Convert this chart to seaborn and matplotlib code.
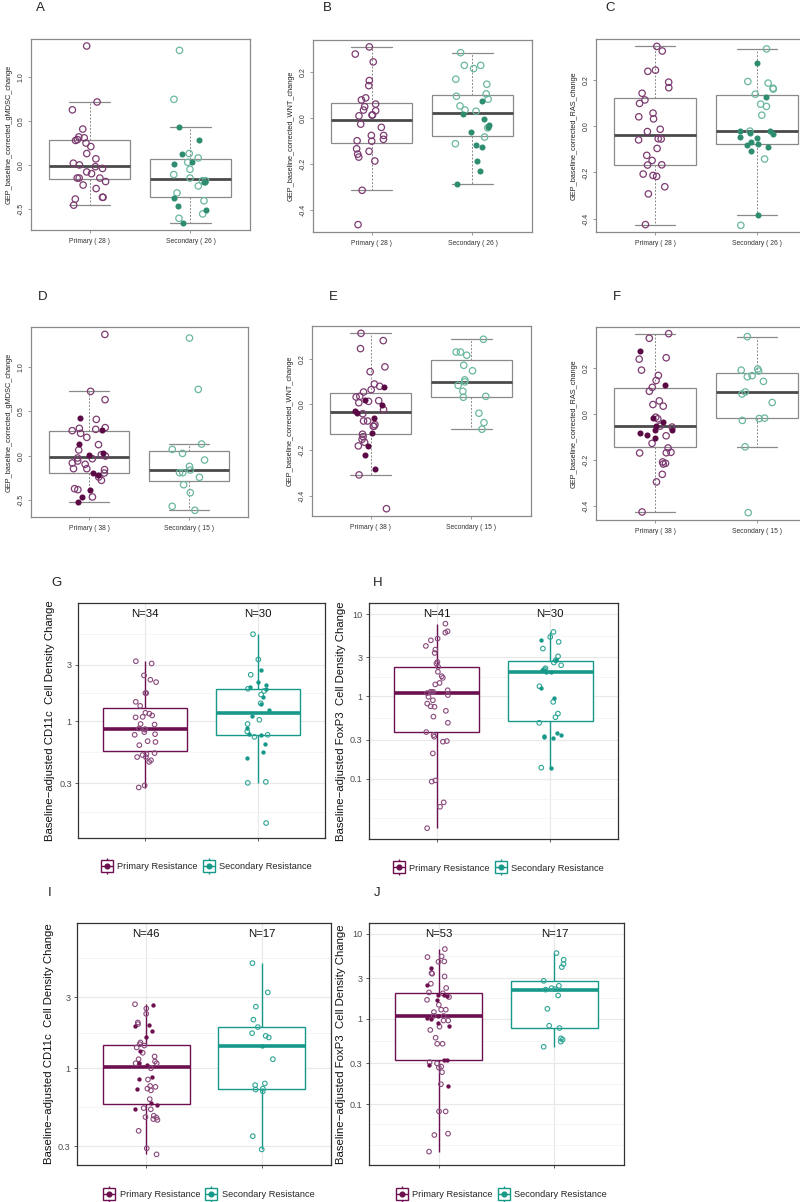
import numpy as np
import pandas as pd
import matplotlib
matplotlib.use("Agg")
import matplotlib.pyplot as plt
import seaborn as sns
from matplotlib.lines import Line2D
from matplotlib.legend_handler import HandlerTuple

sns.set_theme(style="white")
plt.rcParams["font.family"] = ["Liberation Sans", "DejaVu Sans"]

# ---------------- data: GEP panels (A-F) ----------------
a_prim = [1.36, 0.72, 0.63, 0.41, 0.29, 0.28, 0.32, 0.31, 0.25, 0.21, 0.13, 0.07, 0.00, -0.04,
          0.02, -0.02, -0.08, -0.10, -0.15, -0.15, -0.15, -0.19, -0.23, -0.27, -0.37, -0.37, -0.39, -0.46]
a_prim_fill = [0] * 28
a_sec = [1.31, 0.75, 0.43, 0.28, 0.13, 0.13, 0.08, 0.03, 0.03, 0.01, -0.05, -0.11, -0.15,
         -0.18, -0.18, -0.19, -0.20, -0.24, -0.32, -0.38, -0.41, -0.56, -0.52, -0.47, -0.61, -0.66]
a_sec_fill = [0, 0, 1, 1, 0, 1, 0, 0, 1, 1, 0, 0, 0, 0, 0, 1, 1, 0, 0, 1, 0, 0, 1, 1, 0, 1]

b_prim = [0.309, 0.278, 0.244, 0.163, 0.141, 0.088, 0.079, 0.061, 0.050, 0.035, 0.032, 0.014,
          0.010, 0.013, -0.026, -0.040, -0.075, -0.075, -0.092, -0.098, -0.100, -0.133, -0.144,
          -0.156, -0.169, -0.186, -0.313, -0.462]
b_prim_fill = [0] * 28
b_sec = [0.284, 0.229, 0.229, 0.215, 0.169, 0.147, 0.105, 0.095, 0.082, 0.076, 0.053, 0.035, 0.030,
         0.016, -0.003, -0.038, -0.029, -0.042, -0.061, -0.082, -0.111, -0.115, -0.126, -0.185,
         -0.228, -0.284]
b_sec_fill = [0, 0, 0, 0, 0, 0, 0, 0, 0, 1, 0, 0, 0, 1, 1, 1, 1, 0, 1, 0, 0, 1, 1, 1, 1, 1]

c_prim = [0.346, 0.326, 0.238, 0.243, 0.191, 0.167, 0.143, 0.114, 0.099, 0.057, 0.041, 0.032,
          -0.013, -0.023, -0.055, -0.054, -0.059, -0.096, -0.126, -0.148, -0.168, -0.167, -0.213,
          -0.207, -0.217, -0.262, -0.293, -0.426]
c_prim_fill = [0] * 28
c_sec = [0.335, 0.275, 0.194, 0.187, 0.165, 0.161, 0.139, 0.125, 0.096, 0.086, 0.048, -0.019,
         -0.019, -0.028, -0.033, -0.051, -0.070, -0.077, -0.081, -0.090, -0.106, -0.142, -0.386,
         -0.429, -0.021, -0.045]
c_sec_fill = [0, 1, 0, 0, 0, 0, 0, 1, 0, 0, 0, 1, 1, 1, 1, 1, 1, 1, 1, 1, 1, 0, 1, 0, 0, 1]

d_prim = [1.363, 0.723, 0.629, 0.427, 0.408, 0.296, 0.285, 0.307, 0.315, 0.281, 0.251, 0.206,
          0.135, 0.124, 0.026, 0.064, 0.011, -0.004, 0.004, -0.026, -0.034, -0.082, -0.097,
          -0.146, -0.157, -0.146, -0.195, -0.191, -0.213, -0.240, -0.277, -0.382, -0.371,
          -0.382, -0.464, -0.468, -0.521, -0.060]
d_prim_fill = [0, 0, 0, 1, 0, 0, 1, 0, 0, 0, 0, 0, 1, 0, 1, 0, 0, 0, 1, 0, 0, 0, 0, 0, 0, 0,
               0, 1, 1, 0, 0, 0, 0, 1, 0, 1, 1, 0]
d_sec = [1.322, 0.745, 0.131, 0.071, 0.026, -0.049, -0.120, -0.191, -0.161, -0.191, -0.243,
         -0.326, -0.416, -0.569, -0.614]
d_sec_fill = [0] * 15

e_prim = [0.311, 0.279, 0.244, 0.164, 0.143, 0.089, 0.076, 0.079, 0.064, 0.054, 0.035, 0.032,
          0.018, 0.016, 0.013, 0.007, -0.004, -0.023, -0.028, -0.038, -0.041, -0.058, -0.073,
          -0.073, -0.089, -0.096, -0.096, -0.131, -0.124, -0.142, -0.153, -0.166, -0.182,
          -0.181, -0.223, -0.282, -0.309, -0.457]
e_prim_fill = [0, 0, 0, 0, 0, 0, 1, 0, 0, 0, 0, 0, 1, 0, 0, 0, 1, 0, 1, 1, 0, 1, 0, 0, 0, 0,
               0, 0, 1, 0, 0, 0, 0, 1, 1, 1, 0, 0]
e_sec = [0.285, 0.229, 0.229, 0.215, 0.171, 0.147, 0.107, 0.098, 0.083, 0.057, 0.035, 0.031,
         -0.039, -0.080, -0.109]
e_sec_fill = [0] * 15

f_prim = [0.351, 0.331, 0.277, 0.246, 0.240, 0.192, 0.169, 0.147, 0.126, 0.117, 0.100, 0.058,
          0.042, 0.035, -0.013, -0.017, -0.020, -0.032, -0.052, -0.056, -0.069, -0.053, -0.069,
          -0.081, -0.094, -0.090, -0.104, -0.127, -0.147, -0.168, -0.169, -0.208, -0.214,
          -0.217, -0.262, -0.295, -0.426, -0.166]
f_prim_fill = [0, 0, 1, 0, 0, 0, 0, 0, 1, 0, 0, 0, 0, 0, 0, 1, 0, 1, 0, 0, 1, 1, 1, 1, 0, 1,
               1, 0, 0, 0, 0, 0, 0, 0, 0, 0, 0, 0]
f_sec = [0.338, 0.197, 0.188, 0.192, 0.168, 0.163, 0.143, 0.097, 0.088, 0.051, -0.019, -0.027,
         -0.017, -0.142, -0.429]
f_sec_fill = [0] * 15

# ---------------- data: cell density panels (G-J) ----------------
g_prim = [3.21, 3.07, 2.44, 2.24, 2.14, 1.73, 1.73, 1.46, 1.35, 1.18, 1.16, 1.12, 1.09, 1.08,
          0.95, 0.94, 0.87, 0.81, 0.78, 0.77, 0.68, 0.67, 0.63, 0.53, 0.54, 0.50, 0.50, 0.47,
          0.455, 0.288, 0.277, 0.86, 0.52, 0.85]
g_prim_fill = [0] * 34
g_sec = [5.42, 3.32, 2.70, 2.47, 2.15, 2.02, 1.93, 1.89, 1.88, 1.80, 1.61, 1.68, 1.42, 1.40,
         1.24, 1.11, 1.03, 0.885, 0.82, 0.77, 0.74, 0.77, 0.645, 0.55, 0.49, 0.303, 0.309,
         0.139, 0.78, 0.95]
g_sec_fill = [0, 0, 1, 0, 1, 1, 1, 1, 0, 0, 1, 0, 0, 1, 1, 1, 0, 1, 0, 1, 0, 0, 1, 1, 1, 0,
              0, 0, 1, 0]

h_prim = [7.64, 6.17, 5.94, 5.03, 4.80, 4.10, 3.70, 3.37, 2.62, 2.51, 2.29, 1.99, 1.68, 1.76,
          1.46, 1.40, 1.14, 1.19, 1.14, 1.14, 1.10, 1.04, 0.99, 0.90, 0.82, 0.76, 0.75, 0.67,
          0.57, 0.48, 0.37, 0.34, 0.325, 0.283, 0.288, 0.204, 0.096, 0.093, 0.052, 0.046, 0.0253]
h_prim_fill = [0] * 41
h_sec = [6.06, 5.27, 4.59, 4.80, 3.81, 3.07, 2.80, 2.75, 2.58, 2.39, 2.12, 2.12, 2.08, 1.99,
         1.33, 1.25, 0.95, 0.86, 0.62, 0.56, 0.48, 0.357, 0.34, 0.31, 0.325, 0.137, 0.137,
         2.00, 2.20, 0.33]
h_sec_fill = [0, 0, 0, 1, 0, 0, 1, 0, 0, 0, 0, 1, 1, 1, 0, 1, 1, 0, 0, 0, 0, 1, 1, 1, 1, 0,
              1, 1, 0, 1]

i_prim = [2.64, 2.69, 2.52, 2.32, 2.03, 1.98, 1.93, 1.96, 1.78, 1.45, 1.63, 1.42, 1.49, 1.38,
          1.31, 1.27, 1.15, 1.11, 1.08, 1.09, 1.08, 1.00, 0.87, 0.85, 0.84, 0.75, 0.76, 0.73,
          0.73, 0.71, 0.58, 0.57, 0.54, 0.53, 0.53, 0.48, 0.47, 0.466, 0.456, 0.45, 0.38, 0.29,
          0.264, 0.62, 1.20, 1.05]
i_prim_fill = [1, 0, 0, 0, 0, 0, 1, 1, 1, 0, 1, 0, 0, 0, 1, 0, 0, 0, 0, 1, 0, 0, 1, 1, 0, 0,
               0, 0, 1, 0, 1, 1, 0, 0, 1, 0, 0, 0, 0, 0, 0, 0, 0, 0, 0, 1]
i_sec = [5.08, 3.23, 2.59, 2.12, 1.89, 1.72, 1.65, 1.61, 1.15, 1.42, 0.79, 0.77, 0.73, 0.70,
         0.72, 0.35, 0.285]
i_sec_fill = [0, 0, 0, 0, 0, 0, 0, 0, 0, 1, 0, 0, 0, 0, 0, 0, 0]

j_prim = [6.58, 5.30, 5.40, 4.71, 4.67, 3.94, 3.38, 3.44, 3.14, 2.58, 2.51, 2.04, 1.91, 1.99,
          1.91, 1.80, 1.67, 1.67, 1.46, 1.28, 1.28, 1.08, 1.08, 1.08, 1.02, 0.955, 0.955, 0.89,
          0.83, 0.81, 0.74, 0.60, 0.51, 0.51, 0.33, 0.33, 0.30, 0.29, 0.275, 0.268, 0.237,
          0.171, 0.163, 0.082, 0.082, 0.045, 0.0434, 0.0277, 1.85, 1.20, 0.31, 1.00, 2.30]
j_prim_fill = [0, 0, 0, 0, 0, 1, 0, 0, 0, 0, 1, 0, 1, 0, 1, 0, 1, 0, 0, 0, 0, 0, 0, 1, 1, 0,
               0, 1, 1, 0, 0, 0, 0, 0, 1, 1, 0, 1, 0, 0, 0, 0, 1, 0, 0, 0, 0, 0, 1, 0, 0, 1, 0]
j_sec = [5.90, 4.93, 4.39, 4.04, 2.79, 2.44, 2.29, 2.23, 1.88, 1.31, 0.83, 0.78, 0.59, 0.57,
         0.54, 0.47, 2.20]
j_sec_fill = [0] * 17

log_breaks = [0.1, 0.3, 1, 3, 10]
legend_labels = ["Primary Resistance", "Secondary Resistance"]

# ---------------- style ----------------
R_GREY = "#8a8a8a"
TOP_PRIM_OPEN, TOP_PRIM_FILL = "#7d3c71", "#5c0a46"
TOP_SEC_OPEN, TOP_SEC_FILL = "#6bb7a0", "#2e8c70"
BOT_PRIM, BOT_PRIM_OPEN = "#6d1050", "#8a4a7c"
BOT_SEC, BOT_SEC_OPEN = "#17998a", "#2fa596"

W, H = 800, 1202
fig = plt.figure(figsize=(W / 100, H / 100), dpi=100)


def rect(x0, y0, x1, y1):
    return [x0 / W, 1 - y1 / H, (x1 - x0) / W, (y1 - y0) / H]


def make_df(prim, prim_fill, sec, sec_fill, labs):
    return pd.DataFrame({
        "group": [labs[0]] * len(prim) + [labs[1]] * len(sec),
        "value": list(prim) + list(sec),
        "filled": list(prim_fill) + list(sec_fill),
    })


def draw_points(ax, df, labs, colors, jitter, size, lw, seed, log=False):
    for gi, lab in enumerate(labs):
        open_c, fill_c = colors[gi]
        for f in (0, 1):
            sub = df[(df.group == lab) & (df.filled == f)]
            if len(sub) == 0:
                continue
            np.random.seed(seed + 10 * gi + f)
            kw = dict(data=sub, x="group", y="value", order=labs, jitter=jitter, ax=ax,
                      zorder=4)
            if log:
                kw["log_scale"] = True
            if f:
                sns.stripplot(**kw, color=fill_c, size=size * 0.95, linewidth=0)
            else:
                sns.stripplot(**kw, color=open_c, facecolor="none", edgecolor=open_c,
                              size=size, linewidth=lw)


def top_panel(r, prim, prim_fill, sec, sec_fill, ylabel, yticks, ylim, seed):
    ax = fig.add_axes(rect(*r))
    labs = [f"Primary ( {len(prim)} )", f"Secondary ( {len(sec)} )"]
    df = make_df(prim, prim_fill, sec, sec_fill, labs)
    sns.boxplot(data=df, x="group", y="value", order=labs, width=0.8, whis=1.5,
                showfliers=False, color="white", linecolor=R_GREY, linewidth=0.9,
                medianprops=dict(color="#4a4a4a", linewidth=2.0),
                whiskerprops=dict(linestyle=(0, (2, 1.6)), linewidth=0.7),
                capprops=dict(linewidth=0.9), ax=ax)
    draw_points(ax, df, labs, [(TOP_PRIM_OPEN, TOP_PRIM_FILL), (TOP_SEC_OPEN, TOP_SEC_FILL)],
                jitter=0.17, size=4.6, lw=0.9, seed=seed)
    ax.set_xlim(-0.58, 1.59)
    ax.set_ylim(*ylim)
    ax.set_yticks(yticks)
    ax.set_yticklabels([f"{v:.1f}" for v in yticks], rotation=90, va="center")
    ax.set_xlabel("")
    ax.set_ylabel(ylabel, fontsize=5.3, labelpad=4, color="#222222")
    ax.tick_params(axis="both", direction="out", length=2.5, width=0.6, color=R_GREY,
                   labelsize=5, labelcolor="#333333", pad=2, bottom=True, left=True)
    ax.tick_params(axis="x", labelsize=4.9, pad=3)
    for s in ax.spines.values():
        s.set_color(R_GREY)
        s.set_linewidth(0.9)
    return ax


def bottom_panel(r, prim, prim_fill, sec, sec_fill, ylabel, ylim, seed, show_breaks):
    ax = fig.add_axes(rect(*r))
    labs = ["Primary Resistance", "Secondary Resistance"]
    df = make_df(prim, prim_fill, sec, sec_fill, labs)
    for lab, col in zip(labs, [BOT_PRIM, BOT_SEC]):
        sns.boxplot(data=df[df.group == lab], x="group", y="value", order=labs, width=0.75,
                    whis=1.5, showfliers=False, showcaps=False, color="white", linecolor=col,
                    linewidth=1.0, medianprops=dict(linewidth=2.6), log_scale=True, ax=ax)
    draw_points(ax, df, labs, [(BOT_PRIM_OPEN, BOT_PRIM), (BOT_SEC_OPEN, BOT_SEC)],
                jitter=0.1, size=3.3, lw=0.8, seed=seed, log=True)
    ax.set_xlim(-0.6, 1.6)
    ax.set_ylim(*ylim)
    lb = np.log10(log_breaks)
    ext = np.concatenate([[lb[0] - (lb[1] - lb[0])], lb, [lb[-1] + (lb[-1] - lb[-2])]])
    minors = np.concatenate([(ext[:-1] + ext[1:]) / 2, ext[[0, -1]]])
    ax.set_yticks(log_breaks)
    ax.set_yticklabels([f"{b:g}" if b in show_breaks else "" for b in log_breaks])
    ax.set_yticks(10 ** minors, minor=True)
    ax.set_yticklabels([], minor=True)
    ax.set_ylim(*ylim)
    ax.grid(True, which="major", color="#e9e9e9", linewidth=0.9)
    ax.grid(True, which="minor", axis="y", color="#f2f2f2", linewidth=0.5)
    ax.set_axisbelow(True)
    ax.set_xticklabels([])
    ax.set_xlabel("")
    ax.set_ylabel(ylabel, fontsize=8.2, color="#111111", labelpad=3)
    ax.tick_params(axis="both", which="major", direction="out", length=2.5, width=0.6,
                   color="#444444", labelsize=6.6, labelcolor="#4d4d4d", pad=2,
                   bottom=True, left=True)
    ax.tick_params(axis="y", which="minor", length=0, left=False)
    for s in ax.spines.values():
        s.set_color("#333333")
        s.set_linewidth(0.9)
    tr = ax.get_xaxis_transform()
    for i, n in enumerate([len(prim), len(sec)]):
        ax.text(i, 0.955, f"N={n}", transform=tr, ha="center", va="center",
                fontsize=8.2, color="#111111")
    handles = []
    for col in [BOT_PRIM, BOT_SEC]:
        handles.append((
            Line2D([], [], marker="|", markersize=12, color=col, linestyle="none", mew=1.0),
            Line2D([], [], marker="s", markersize=8, markerfacecolor="white",
                   markeredgecolor=col, linestyle="none", mew=1.0),
            Line2D([], [], marker="_", markersize=8, color=col, linestyle="none", mew=1.0),
            Line2D([], [], marker="o", markersize=3.4, color=col, linestyle="none"),
        ))
    ax.legend(handles, legend_labels, handler_map={tuple: HandlerTuple(ndivide=1)},
              loc="center", bbox_to_anchor=(0.52, -0.123), ncol=2, frameon=False,
              fontsize=6.7, handlelength=1.2, handletextpad=0.5, columnspacing=0.6)
    return ax


top_panel((31, 39, 250, 230), a_prim, a_prim_fill, a_sec, a_sec_fill,
          "GEP_baseline_corrected_gMDSC_change", [-0.5, 0.0, 0.5, 1.0], (-0.744, 1.44), 1)
top_panel((313, 40, 532, 232), b_prim, b_prim_fill, b_sec, b_sec_fill,
          "GEP_baseline_corrected_WNT_change", [-0.4, -0.2, 0.0, 0.2], (-0.494, 0.339), 2)
top_panel((596, 39, 817, 232), c_prim, c_prim_fill, c_sec, c_sec_fill,
          "GEP_baseline_corrected_RAS_change", [-0.4, -0.2, 0.0, 0.2], (-0.458, 0.378), 3)
top_panel((31, 327, 248, 517), d_prim, d_prim_fill, d_sec, d_sec_fill,
          "GEP_baseline_corrected_gMDSC_change", [-0.5, 0.0, 0.5, 1.0], (-0.689, 1.446), 4)
top_panel((312, 326, 531, 516), e_prim, e_prim_fill, e_sec, e_sec_fill,
          "GEP_baseline_corrected_WNT_change", [-0.4, -0.2, 0.0, 0.2], (-0.489, 0.343), 5)
top_panel((596, 327, 817, 520), f_prim, f_prim_fill, f_sec, f_sec_fill,
          "GEP_baseline_corrected_RAS_change", [-0.4, -0.2, 0.0, 0.2], (-0.461, 0.380), 6)

bottom_panel((78, 603, 325, 838), g_prim, g_prim_fill, g_sec, g_sec_fill,
             "Baseline\u2212adjusted CD11c  Cell Density Change", (0.104, 9.93), 7, [0.3, 1, 3])
bottom_panel((369, 603, 618, 839), h_prim, h_prim_fill, h_sec, h_sec_fill,
             "Baseline\u2212adjusted FoxP3  Cell Density Change", (0.0187, 13.6), 8,
             [0.1, 0.3, 1, 3, 10])
bottom_panel((77, 923, 331, 1165), i_prim, i_prim_fill, i_sec, i_sec_fill,
             "Baseline\u2212adjusted CD11c  Cell Density Change", (0.224, 9.45), 9, [0.3, 1, 3])
bottom_panel((369, 923, 624, 1165), j_prim, j_prim_fill, j_sec, j_sec_fill,
             "Baseline\u2212adjusted FoxP3  Cell Density Change", (0.0193, 13.3), 10,
             [0.1, 0.3, 1, 3, 10])

for letter, (x, y) in zip("ABCDEFGHIJ", [(40, 8), (327, 8), (610, 8), (43, 297), (333, 297),
                                          (617, 297), (57, 583), (378, 583), (50, 893),
                                          (377, 893)]):
    fig.text(x / W, 1 - y / H, letter, ha="center", va="center", fontsize=9.5,
             color="#222222")

fig.savefig("out.png", dpi=100, facecolor="white")
